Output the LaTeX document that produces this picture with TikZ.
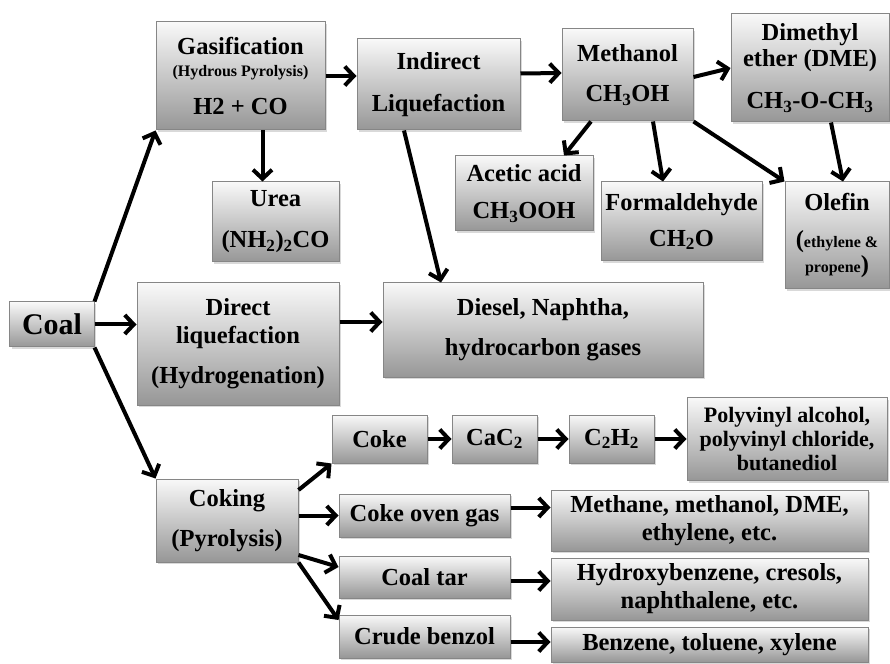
\documentclass[tikz,border=0pt]{standalone}
\usepackage{fontspec}
\setmainfont{Liberation Serif}
\usetikzlibrary{arrows.meta,shadows,positioning}
\tikzstyle{block} = [draw=gray!95, line width=1pt, rectangle, top color=gray!5, bottom color=gray!82, drop shadow={shadow xshift=2pt, shadow yshift=-2pt, opacity=0.3}, align=center, inner sep=2pt, font=\bfseries\fontsize{24.5}{26}\selectfont]
\tikzstyle{flow} = [->, line width=4pt]
\newcommand{\smalltxt}{\fontsize{16}{18}\selectfont}

\begin{document}
\begin{tikzpicture}[auto, node distance=2cm, >={Straight Barb[length=9pt,width=19pt,line width=4pt]}]

\node [block, minimum width=84pt, minimum height=45pt, font=\bfseries\fontsize{30}{30}\selectfont] (coal) {Coal};
\node [block, right of=coal, node distance=186pt, yshift=-19.5pt, minimum width=202pt, minimum height=122pt] (direct) {Direct\\[2pt]liquefaction\\[14pt](Hydrogenation)};
\node [block, above of=direct, node distance=268pt, xshift=2.5pt, minimum width=169pt, minimum height=108pt] (gasif) {Gasification\\[-4pt]{\smalltxt (Hydrous Pyrolysis)}\\[12pt]H2 + CO};
\node [block, below of=direct, node distance=176.5pt, xshift=-11pt, minimum width=142pt, minimum height=83pt] (coking) {Coking\\[14pt](Pyrolysis)};

\node [block, below of=gasif, node distance=146pt, xshift=35pt, minimum width=127pt, minimum height=80pt] (urea) {Urea\\[15pt](NH\textsubscript{2})\textsubscript{2}CO};
\node [block, right of=gasif, node distance=198pt, yshift=-8.5pt, minimum width=163pt, minimum height=91pt] (indirect) {Indirect\\[16pt]Liquefaction};
\node [block, right of=indirect, node distance=189pt, yshift=9.5pt, minimum width=131pt, minimum height=92pt] (methanol) {Methanol\\[14pt]CH\textsubscript{3}OH};
\node [block, right of=methanol, node distance=182.5pt, yshift=7pt, minimum width=158pt, minimum height=108pt] (dme) {Dimethyl\\ether (DME)\\[16pt]CH\textsubscript{3}-O-CH\textsubscript{3}};
\node [block, below of=methanol, node distance=118.5pt, xshift=-103.5pt, minimum width=138pt, minimum height=75pt] (acetic) {Acetic acid\\[11pt]CH\textsubscript{3}OOH};
\node [block, below of=methanol, node distance=146.5pt, xshift=54pt, minimum width=161pt, minimum height=79pt] (formald) {Formaldehyde\\[10pt]CH\textsubscript{2}O};
\node [block, below of=dme, node distance=167.5pt, xshift=27pt, minimum width=104pt, minimum height=107pt] (olefin) {Olefin\\[11pt]({\smalltxt ethylene \&}\\[-1pt]{\smalltxt propene})};
\node [block, right of=direct, node distance=305pt, yshift=14pt, minimum width=320pt, minimum height=94pt] (diesel) {Diesel, Naphtha,\\[14pt]hydrocarbon gases};

\node [block, right of=coking, node distance=152.5pt, yshift=81.5pt, minimum width=95pt, minimum height=48pt] (coke) {Coke};
\node [block, right of=coke, node distance=115pt, minimum width=85pt, minimum height=48pt] (cac2) {CaC\textsubscript{2}};
\node [block, right of=cac2, node distance=117pt, minimum width=85pt, minimum height=48pt] (c2h2) {C\textsubscript{2}H\textsubscript{2}};
\node [block, right of=c2h2, node distance=175.5pt, minimum width=200pt, minimum height=83pt, font=\bfseries\fontsize{22}{24}\selectfont] (polyvinyl) {Polyvinyl alcohol,\\polyvinyl chloride,\\butanediol};

\node [block, right of=coking, node distance=197.5pt, yshift=5pt, minimum width=171pt, minimum height=43pt] (oven) {Coke oven gas};
\node [block, right of=oven, node distance=285pt, yshift=-5pt, minimum width=317pt, minimum height=61pt] (methane) {Methane, methanol, DME,\\[2pt]ethylene, etc.};
\node [block, below of=oven, node distance=61.5pt, minimum width=171pt, minimum height=42pt] (tar) {Coal tar};
\node [block, below of=methane, node distance=68.5pt, minimum width=317pt, minimum height=62pt] (hydroxy) {Hydroxybenzene, cresols,\\[2pt]naphthalene, etc.};
\node [block, below of=tar, node distance=59.5pt, minimum width=171pt, minimum height=43pt] (benzol) {Crude benzol};
\node [block, below of=hydroxy, node distance=55.5pt, minimum width=317pt, minimum height=35pt] (benzene) {Benzene, toluene, xylene};

% from coal
\draw [flow] (coal.north east) -- (gasif.south west);
\draw [flow] (coal.east) -- (coal.east -| direct.west);
\draw [flow] (coal.south east) -- (coking.north west);

% gasification branch
\draw [flow] (gasif.east) -- (gasif.east -| indirect.west);
\draw [flow] ([xshift=22pt]gasif.south) -- ([xshift=-13pt]urea.north);
\draw [flow] ([xshift=-34.5pt]indirect.south) -- ([xshift=-102pt]diesel.north);
\draw [flow] ([yshift=11pt]indirect.east) -- ([yshift=2pt]methanol.west);
\draw [flow] ([yshift=-2pt]methanol.east) -- (dme.west);
\draw [flow] ([xshift=-36.5pt]methanol.south) -- ([xshift=40pt]acetic.north);
\draw [flow] ([xshift=25.5pt]methanol.south) -- ([xshift=-18.5pt]formald.north);
\draw [flow] (methanol.south east) -- (olefin.north west);
\draw [flow] ([xshift=21pt]dme.south) -- ([xshift=6pt]olefin.north);
\draw [flow] ([yshift=22pt]direct.east) -- ([yshift=22pt]direct.east -| diesel.west);

% coking branch
\draw [flow] ([yshift=30.5pt]coking.east) -- (coke.south west);
\draw [flow] ([yshift=5pt]coking.east) -- (oven.west);
\draw [flow] ([yshift=-34.5pt]coking.east) -- ([yshift=10pt]tar.west);
\draw [flow] (coking.south east) -- ([yshift=16.5pt]benzol.west);
\draw [flow] (coke) -- (cac2);
\draw [flow] (cac2) -- (c2h2);
\draw [flow] (c2h2) -- (polyvinyl);
\draw [flow] ([yshift=8pt]oven.east) -- ([yshift=8pt]oven.east -| methane.west);
\draw [flow] ([yshift=-4pt]tar.east) -- ([yshift=-4pt]tar.east -| hydroxy.west);
\draw [flow] ([yshift=-5.5pt]benzol.east) -- ([yshift=-5.5pt]benzol.east -| benzene.west);

\useasboundingbox ([shift={(-52pt,324.5pt)}]coal.center) rectangle ([shift={(838pt,-338.5pt)}]coal.center);

\end{tikzpicture}
\end{document}
